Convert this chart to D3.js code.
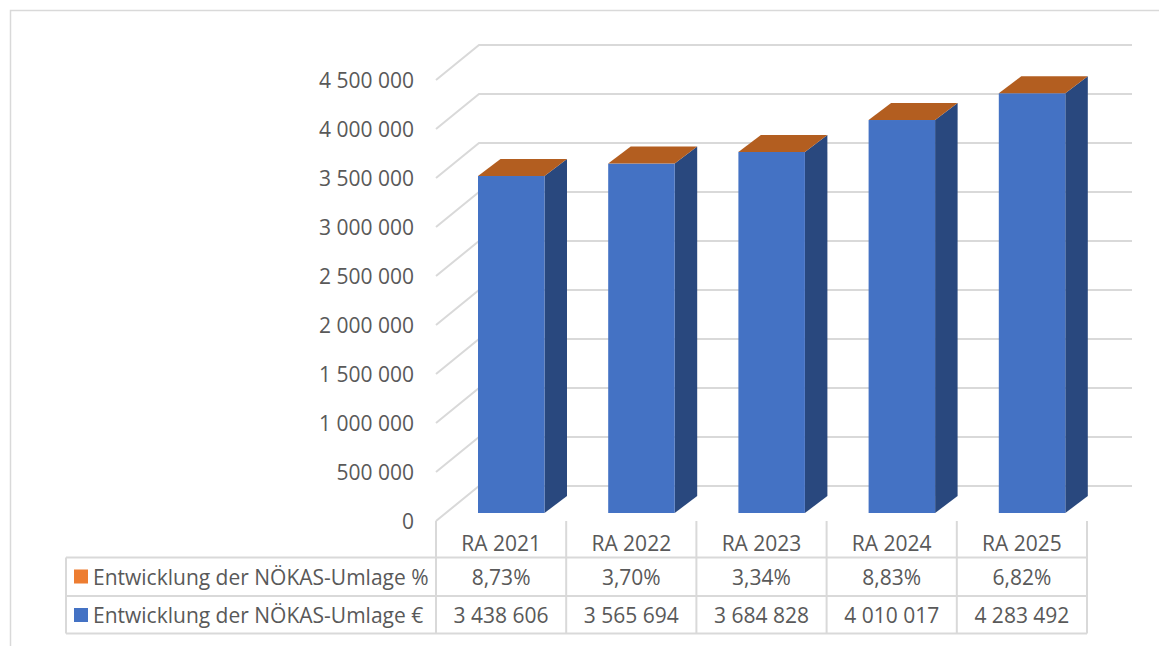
<!DOCTYPE html>
<html><head><meta charset="utf-8">
<script src="https://cdn.jsdelivr.net/npm/d3@7/dist/d3.min.js"></script>
<style>
html,body{margin:0;padding:0;background:#fff;overflow:hidden}
text{font-family:"Open Sans",sans-serif;fill:#595959;font-size:21px}
</style></head><body><svg id="c" width="1159" height="646"></svg>
<script>
const categories = ["RA 2021","RA 2022","RA 2023","RA 2024","RA 2025"];
const umlageEuro = [3438606,3565694,3684828,4010017,4283492];
const umlagePct = [0.0873,0.0370,0.0334,0.0883,0.0682];
const yTicks = [0,500000,1000000,1500000,2000000,2500000,3000000,3500000,4000000,4500000];
const seriesNames = ["Entwicklung der NÖKAS-Umlage %","Entwicklung der NÖKAS-Umlage €"];
const seriesColors = ["#ed7d31","#4472c4"];

const grid = "#d9d9d9";
const locSp = d3.formatLocale({decimal:",",thousands:" ",grouping:[3],currency:["","€"],percent:"%"});
const fmtN = locSp.format(",d"), fmtP = locSp.format(".2%");

const svg = d3.select("#c");
const y = d3.scaleLinear().domain([0,4500000]).range([521,80]);
const x = d3.scaleBand().domain(categories).range([436,1087]);
const wall = {dx:43,dy:-35}, bar = {w:66.5,off:42,base:-8,dx:22.5,dy:-17};

// chart frame
svg.append("path").attr("d","M10.5,646V10.5H1159").attr("fill","none").attr("stroke",grid).attr("stroke-width",1.5);

// gridlines
const g = svg.append("g").attr("fill","none").attr("stroke",grid).attr("stroke-width",2);
g.selectAll("path").data(yTicks).join("path")
 .attr("d",d=>`M${x.range()[0]},${y(d)}L${x.range()[0]+wall.dx},${y(d)+wall.dy}H1132`);

// axis labels
const ax = svg.append("g").attr("transform","translate(436,1)")
 .call(d3.axisLeft(y).tickValues(yTicks).tickFormat(fmtN).tickSize(0).tickPadding(22));
ax.select(".domain").remove();
ax.selectAll("text").attr("font-size",null).style("font-family",'"Open Sans",sans-serif').style("font-size","21px").style("fill","#595959");

// bars
const bars = svg.append("g").selectAll("g").data(categories).join("g");
const bx = c=>x(c)+bar.off, by0 = y(0)+bar.base;
const top_ = (c,i)=>y(umlageEuro[i])+bar.base;
bars.append("path").attr("fill","#29487e")
 .attr("d",(c,i)=>`M${bx(c)+bar.w},${by0}l${bar.dx},${bar.dy}V${top_(c,i)+bar.dy}l${-bar.dx},${-bar.dy}Z`);
bars.append("rect").attr("fill","#4472c4")
 .attr("x",bx).attr("width",bar.w).attr("y",top_).attr("height",(c,i)=>by0-top_(c,i));
bars.append("path").attr("fill","#b35e20")
 .attr("d",(c,i)=>`M${bx(c)},${top_(c,i)}l${bar.dx},${bar.dy}h${bar.w}l${-bar.dx},${-bar.dy}Z`);

// data table
const rows = [521,557.5,596,633.5], tl = 66;
const t = svg.append("g").attr("stroke",grid).attr("stroke-width",2).attr("fill","none");
rows.slice(1).forEach(r=>t.append("line").attr("x1",tl).attr("x2",1087).attr("y1",r).attr("y2",r));
t.append("line").attr("x1",tl).attr("x2",tl).attr("y1",rows[1]).attr("y2",rows[3]);
[...categories.map(c=>x(c)),x.range()[1]].forEach(v=>t.append("line").attr("x1",v).attr("x2",v).attr("y1",rows[0]).attr("y2",rows[3]));

const cx = c=>x(c)+x.bandwidth()/2;
const rowY = [rows[0]+30,rows[1]+27,rows[2]+26.5];
const cell = (arr,ry,f)=>svg.append("g").selectAll("text").data(arr).join("text")
 .attr("x",(d,i)=>cx(categories[i])).attr("y",ry).attr("text-anchor","middle").text(f);
cell(categories,rowY[0],d=>d);
cell(umlagePct,rowY[1],fmtP);
cell(umlageEuro,rowY[2],fmtN);

// legend keys
seriesNames.forEach((n,i)=>{
  svg.append("rect").attr("x",74).attr("width",14).attr("height",14).attr("y",rows[i+1]+12).attr("fill",seriesColors[i]);
  svg.append("text").attr("x",93).attr("y",rowY[i+1]).text(n);
});
</script></body></html>
